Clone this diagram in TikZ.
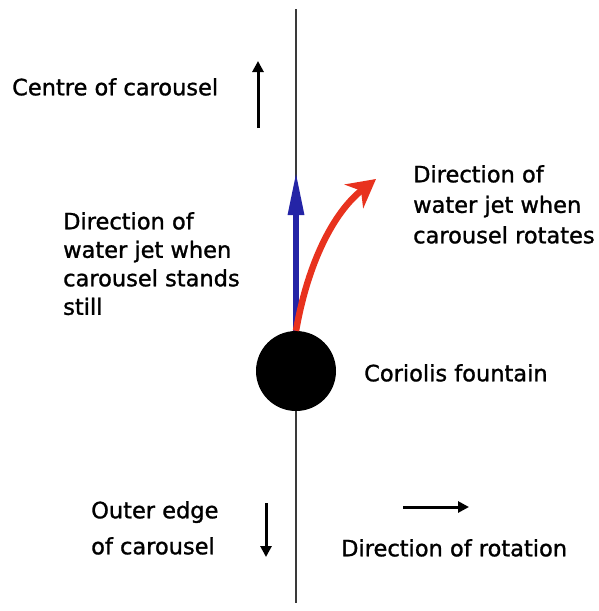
\documentclass[tikz,border=0pt]{standalone}
\usepackage{fontspec}
\setmainfont{DejaVu Sans}
\newfontfamily\sketchfont{DejaVu Sans}[FakeBold=1.2]
\usepackage{tikz}
\usetikzlibrary{arrows.meta}
\definecolor{jetblue}{HTML}{2424A6}
\definecolor{jetred}{HTML}{E8321E}
\definecolor{axisgrey}{HTML}{3A3A3A}

\begin{document}
\begin{tikzpicture}[x=1pt,y=-1pt,
  lbl/.style={font=\sketchfont\fontsize{22.5}{28.5}\selectfont,inner sep=0pt,align=left,anchor=north west},
  hint/.style={line width=3pt,-{Triangle[length=11pt,width=11pt]}}]
  \useasboundingbox (0,0) rectangle (598,611);
  % radius of the carousel and the fountain on it
  \coordinate (axistop) at (295.5,9);
  \coordinate (axisbot) at (295.5,603);
  \draw[axisgrey,line width=2pt] (axistop) -- (axisbot);
  \node[circle,fill=black,minimum size=80pt,inner sep=0pt] (fountain) at (296,371) {};
  % the two jets
  \coordinate (stilltip) at (296,171);
  \coordinate (rottip) at (376,179);
  \draw[jetblue,line width=6pt,-{Triangle[length=44pt,width=15pt]}] (fountain.north) -- (stilltip);
  \draw[jetred,line width=6.5pt,-{Stealth[length=28pt,width=30pt,inset=9pt]}]
    (fountain.north) .. controls (308,262) and (334,212) .. (rottip);
  % small direction arrows
  \coordinate (inA) at (258,128); \coordinate (inB) at (258,61);
  \coordinate (outA) at (266,503); \coordinate (outB) at (266,557);
  \coordinate (spinA) at (403,507); \coordinate (spinB) at (469,507);
  \draw[hint] (inA) -- (inB);
  \draw[hint] (outA) -- (outB);
  \draw[hint] (spinA) -- (spinB);
  % labels
  \node[lbl] (centre) at (12,78) {Centre of carousel};
  \node[lbl] (still) at (63,212) {Direction of\\water jet when\\carousel stands\\still};
  \node[lbl,font=\sketchfont\fontsize{22.5}{30.5}\selectfont] (rotates) at (413,165) {Direction of\\water jet when\\carousel rotates};
  \node[lbl] (coriolis) at (364,364) {Coriolis fountain};
  \node[lbl,font=\sketchfont\fontsize{22.5}{36}\selectfont] (edge) at (91,501) {Outer edge\\of carousel};
  \node[lbl] (rotation) at (341,539) {Direction of rotation};
\end{tikzpicture}
\end{document}
